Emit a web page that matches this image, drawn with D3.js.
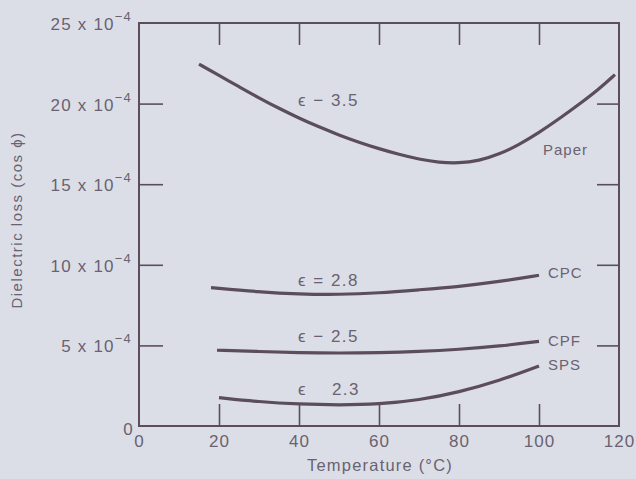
<!DOCTYPE html>
<html>
<head>
<meta charset="utf-8">
<script src="https://cdn.jsdelivr.net/npm/d3@7"></script>
<style>
  html, body { margin: 0; padding: 0; background: #dcdee7; }
  svg { display: block; }
  text { font-family: "Liberation Sans", Arial, sans-serif; fill: #6a6270; }
</style>
</head>
<body>
<svg id="chart" width="636" height="479"></svg>
<script>
// Dielectric loss versus temperature for four insulation types
const xTicks = [0, 20, 40, 60, 80, 100, 120];
const yTicks = [5, 10, 15, 20, 25];          // in units of 10^-4

const paperT = [15, 20, 25, 30, 35, 40, 45, 50, 55, 60, 65, 70, 75, 80, 85, 90, 95, 100, 105, 110, 115, 119];
const paperV = [22.45, 21.75, 21.05, 20.35, 19.7, 19.1, 18.55, 18.05, 17.6, 17.2, 16.85, 16.55, 16.35, 16.3, 16.45, 16.85, 17.45, 18.2, 19.05, 19.95, 20.9, 21.8];

const cpcT = [18, 30, 40, 50, 60, 70, 80, 90, 100];
const cpcV = [8.58, 8.32, 8.18, 8.15, 8.25, 8.45, 8.65, 8.95, 9.35];

const cpfT = [19.5, 30, 40, 50, 60, 70, 80, 90, 100];
const cpfV = [4.7, 4.62, 4.55, 4.52, 4.55, 4.62, 4.75, 4.95, 5.25];

const spsT = [20, 30, 40, 50, 60, 70, 80, 90, 100];
const spsV = [1.76, 1.5, 1.35, 1.3, 1.35, 1.6, 2.1, 2.8, 3.72];

const seriesNames = ["Paper", "CPC", "CPF", "SPS"];
const epsLabels = ["ϵ − 3.5", "ϵ = 2.8", "ϵ − 2.5", "ϵ    2.3"];

const ink = "#5c4d5e";
const svg = d3.select("#chart");

const x = d3.scaleLinear().domain([0, 120]).range([139, 619]);
const y = d3.scaleLinear().domain([0, 25]).range([426, 23]);

// frame
svg.append("rect")
  .attr("x", x(0)).attr("y", y(25))
  .attr("width", x(120) - x(0)).attr("height", y(0) - y(25))
  .attr("fill", "none").attr("stroke", ink).attr("stroke-width", 2);

function styleAxis(g) {
  g.select(".domain").remove();
  g.selectAll(".tick line").attr("stroke", ink).attr("stroke-width", 1.6);
}

const inner = [20, 40, 60, 80, 100];

// bottom axis with inward ticks
const gB = svg.append("g").attr("transform", `translate(0,${y(0)})`)
  .call(d3.axisBottom(x).tickValues(xTicks).tickSizeInner(-22).tickSizeOuter(0).tickPadding(9).tickFormat(d3.format("d")));
styleAxis(gB);
gB.selectAll(".tick").filter(d => d === 0 || d === 120).select("line").remove();
gB.selectAll(".tick text").attr("font-size", 17).attr("fill", "#6a6270")
  .attr("letter-spacing", 1)
  .attr("font-family", "Liberation Sans, Arial, sans-serif");

// top axis ticks
const gT = svg.append("g").attr("transform", `translate(0,${y(25)})`)
  .call(d3.axisTop(x).tickValues(inner).tickSizeInner(-22).tickSizeOuter(0).tickFormat(""));
styleAxis(gT);

// left and right ticks
const tickY = yTicks.filter(d => d < 25);
const gL = svg.append("g").attr("transform", `translate(${x(0)},0)`)
  .call(d3.axisLeft(y).tickValues(tickY).tickSizeInner(-24).tickSizeOuter(0).tickFormat(""));
styleAxis(gL);
const gR = svg.append("g").attr("transform", `translate(${x(120)},0)`)
  .call(d3.axisRight(y).tickValues(tickY).tickSizeInner(-22).tickSizeOuter(0).tickFormat(""));
styleAxis(gR);

// y tick labels with power of ten
const yl = svg.append("g");
yTicks.forEach(v => {
  const t = yl.append("text")
    .attr("x", 132).attr("y", y(v) + 7)
    .attr("text-anchor", "end").attr("font-size", 17).attr("letter-spacing", 1.2);
  t.append("tspan").text(`${v} x 10`);
  t.append("tspan").attr("dy", -9).attr("font-size", 13).text("−4");
});
yl.append("text").attr("x", 128).attr("y", y(0) + 9)
  .attr("text-anchor", "middle").attr("font-size", 17).text("0");

// axis titles
svg.append("text")
  .attr("x", 380).attr("y", 471).attr("text-anchor", "middle")
  .attr("font-size", 16.5).attr("letter-spacing", 1.2)
  .text("Temperature (°C)");
svg.append("text")
  .attr("transform", "translate(22,220) rotate(-90)")
  .attr("text-anchor", "middle").attr("font-size", 15).attr("letter-spacing", 1.5)
  .text("Dielectric loss (cos ϕ)");

// curves
const series = [
  { name: seriesNames[0], t: paperT, v: paperV },
  { name: seriesNames[1], t: cpcT, v: cpcV },
  { name: seriesNames[2], t: cpfT, v: cpfV },
  { name: seriesNames[3], t: spsT, v: spsV }
];
const line = d3.line().x(d => x(d[0])).y(d => y(d[1])).curve(d3.curveBasis);
svg.append("g").selectAll("path").data(series).join("path")
  .attr("d", s => line(s.t.map((t, i) => [t, s.v[i]])))
  .attr("fill", "none").attr("stroke", ink).attr("stroke-width", 3.2)
  .attr("stroke-linecap", "butt");

// series names
const namePos = [[543, 155], [548, 278], [548, 346], [548, 370]];
svg.append("g").selectAll("text").data(seriesNames).join("text")
  .attr("x", (d, i) => namePos[i][0]).attr("y", (d, i) => namePos[i][1])
  .attr("font-size", 15).attr("letter-spacing", 1)
  .text(d => d);

// permittivity labels
const epsPos = [[298, 106], [298, 286], [298, 342], [298, 395]];
svg.append("g").selectAll("text").data(epsLabels).join("text")
  .attr("x", (d, i) => epsPos[i][0]).attr("y", (d, i) => epsPos[i][1])
  .attr("font-size", 17).attr("letter-spacing", 1.5)
  .attr("xml:space", "preserve").style("white-space", "pre")
  .text(d => d);
</script>
</body>
</html>
